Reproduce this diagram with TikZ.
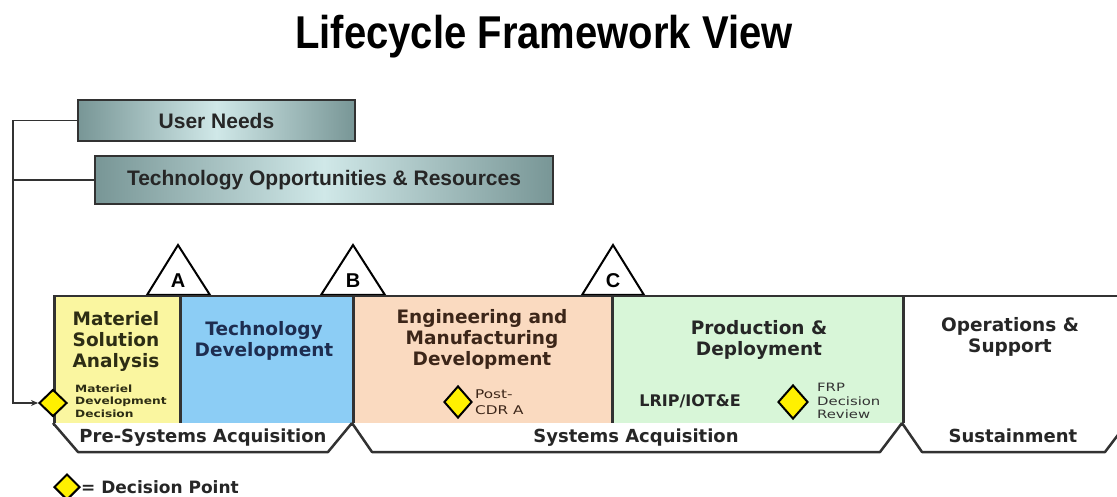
\documentclass[tikz,border=0pt]{standalone}
\usepackage{fontspec}
\usepackage{graphicx}
\setmainfont{DejaVu Sans}
\newfontfamily\arialfont{Liberation Sans}
\usetikzlibrary{shapes.geometric,arrows.meta}
\definecolor{msacol}{RGB}{250,246,160}
\definecolor{tdcol}{RGB}{140,205,245}
\definecolor{emdcol}{RGB}{250,218,192}
\definecolor{pdcol}{RGB}{216,246,216}
\definecolor{boxedge}{RGB}{120,150,150}
\definecolor{boxmid}{RGB}{208,232,232}
\definecolor{linecol}{RGB}{50,50,50}
\definecolor{dyellow}{RGB}{255,240,0}
\definecolor{tdtext}{RGB}{30,45,80}
\definecolor{emdtext}{RGB}{60,38,25}
\definecolor{msatext}{RGB}{45,45,20}
\newcommand{\wid}[2]{\scalebox{#1}[1]{#2}}
\begin{document}
\begin{tikzpicture}[x=1pt,y=-1pt,
  topbox/.style={draw=linecol, line width=2.5pt, left color=boxedge, right color=boxedge, middle color=boxmid,
    inner sep=0pt, font=\arialfont\bfseries\fontsize{21}{24}\selectfont, text=black!85},
  phase/.style={draw=linecol, line width=2.5pt, anchor=north west, inner sep=0pt, minimum height=128pt},
  bandlbl/.style={font=\bfseries\fontsize{18}{20}\selectfont, text=black!85},
  phlbl/.style={font=\bfseries\fontsize{18.5}{21}\selectfont, align=center},
  smalllbl/.style={font=\bfseries\fontsize{10}{12.5}\selectfont, align=left, anchor=west, inner sep=0pt},
  gate/.style={draw=black, line width=2pt, fill=white, line join=miter},
  gatelbl/.style={font=\arialfont\bfseries\fontsize{20}{22}\selectfont},
  dpoint/.style={diamond, draw=black, line width=2pt, fill=dyellow, inner sep=0pt},
  conn/.style={draw=linecol, line width=1.5pt},
  trap/.style={draw=linecol, line width=2.5pt, fill=white, line join=round}
]
\useasboundingbox (0,0) rectangle (1117,497);
\clip (0,0) rectangle (1117,497);

% title
\node[font=\arialfont\bfseries\fontsize{40}{48}\selectfont, anchor=base] (title) at (544,49) {\scalebox{1}[1.15]{Lifecycle Framework View}};

% input boxes
\node[topbox, minimum width=277pt, minimum height=41pt] (un) at (216.5,120.5) {User Needs};
\node[topbox, minimum width=458pt, minimum height=48pt] (tor) at (324,180) {Technology Opportunities \& Resources};

% gates (triangles)
\draw[gate] (147,295) -- (178,245) -- (210,295) -- cycle;
\draw[gate] (321,295) -- (353,245) -- (385,295) -- cycle;
\draw[gate] (582,295) -- (613,245) -- (644,295) -- cycle;
\node[gatelbl] (ga) at (178,281) {A};
\node[gatelbl] (gb) at (353,281) {B};
\node[gatelbl] (gc) at (613,281) {C};

% phase boxes
\node[phase, fill=msacol, minimum width=126pt] (msa) at (53,295) {};
\node[phase, fill=tdcol, minimum width=173pt] (td) at (179,295) {};
\node[phase, fill=emdcol, minimum width=259pt] (emd) at (352,295) {};
\node[phase, fill=pdcol, minimum width=291pt] (pd) at (611,295) {};
\node[phase, fill=white, minimum width=240pt] (os) at (902,295) {};

% phase labels
\node[phlbl, text=msatext] (msal) at (116,341) {Materiel\\Solution\\Analysis};
\node[phlbl, text=tdtext] (tdl) at (264,341) {Technology\\Development};
\node[phlbl, text=emdtext] (emdl) at (482,339) {Engineering and\\Manufacturing\\Development};
\node[phlbl, text=black!85] (pdl) at (759,340) {Production \&\\Deployment};
\node[phlbl, text=black!85] (osl) at (1010,337) {Operations \&\\Support};

% acquisition bands
\draw[trap] (53,423) -- (78,452) -- (328,452) -- (352,423);
\draw[trap] (352,423) -- (372,452) -- (880,452) -- (902,423);
\draw[trap] (902,423) -- (922,452) -- (1105,452) -- (1127,423);
\node[bandlbl] (psa) at (203,438) {Pre-Systems Acquisition};
\node[bandlbl] (sa) at (636,438) {Systems Acquisition};
\node[bandlbl] (sus) at (1013,436) {Sustainment};

% decision points
\node[dpoint, minimum width=28pt, minimum height=27pt] (mdd) at (53,403) {};
\node[smalllbl, text=msatext] (mddl) at (75,401) {\wid{1.22}{Materiel}\\\wid{1.22}{Development}\\\wid{1.22}{Decision}};
\node[dpoint, minimum width=28pt, minimum height=32pt] (pcdr) at (458,402) {};
\node[smalllbl, font=\fontsize{12}{16}\selectfont, text=emdtext] (pcdrl) at (475,402) {\wid{1.27}{Post-}\\\wid{1.27}{CDR A}};
\node[font=\bfseries\fontsize{16}{18}\selectfont, text=black!85] (lrip) at (690,401) {LRIP/IOT\&E};
\node[dpoint, minimum width=30pt, minimum height=34pt] (frp) at (793,402) {};
\node[smalllbl, font=\fontsize{11.5}{13.5}\selectfont, text=black!80] (frpl) at (817,401) {\wid{1.29}{FRP}\\\wid{1.29}{Decision}\\\wid{1.29}{Review}};

% connector from inputs to MDD
\coordinate (corner) at (13,120.5);
\draw[conn] (un.west) -- (corner);
\draw[conn] (tor.west) -- (tor.west -| corner);
\draw[conn, -{Stealth[length=7pt,width=6pt]}] (corner) |- (mdd.west);

% legend
\node[dpoint, minimum width=26pt, minimum height=26pt] (legd) at (67,487) {};
\node[font=\bfseries\fontsize{17}{20}\selectfont, anchor=west, inner sep=0pt, text=black!85] (legt) at (81,487) {= Decision Point};
\end{tikzpicture}
\end{document}
